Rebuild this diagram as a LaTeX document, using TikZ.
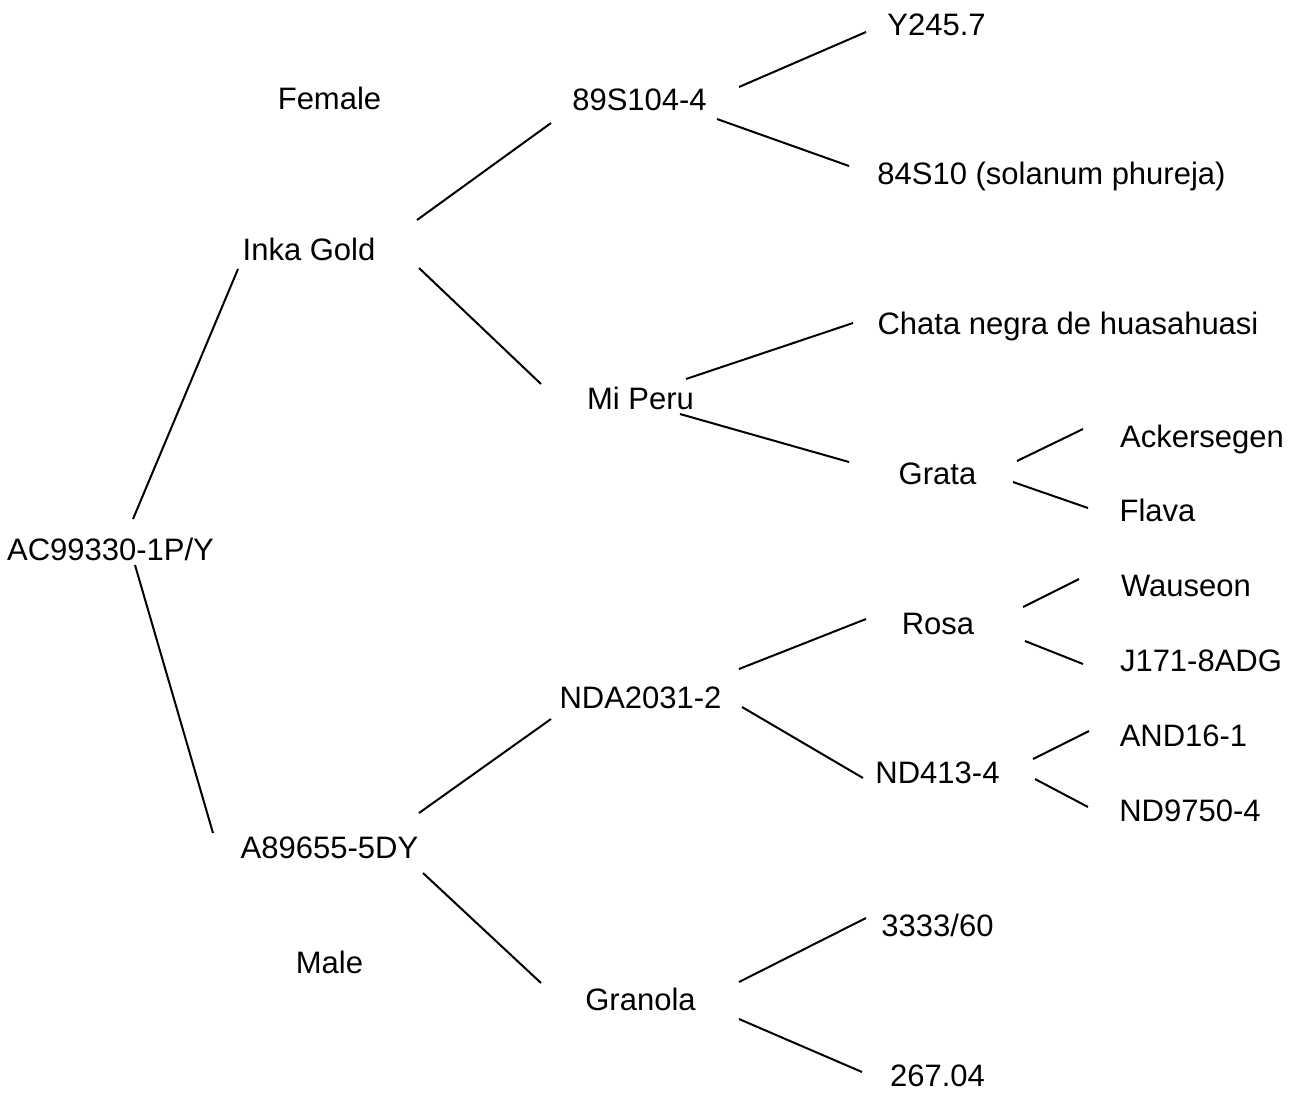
\documentclass[tikz,border=0pt]{standalone}
\usepackage{fontspec}
\setmainfont{Liberation Sans}
\begin{document}
\begin{tikzpicture}[x=0.5pt,y=-0.5pt,
  lbl/.style={anchor=base,inner sep=0pt,font=\fontsize{15.5pt}{18pt}\selectfont},
  link/.style={line width=1pt,black}]
\useasboundingbox (0,0) rectangle (1297,1094);
% labels
\node[lbl] (female) at (329.5,109) {Female};
\node[lbl] (male) at (329.5,973) {Male};
\node[lbl] (ac) at (110.5,560) {AC99330-1P/Y};
\node[lbl] (inka) at (309,260) {Inka Gold};
\node[lbl] (a89) at (329.5,858) {A89655-5DY};
\node[lbl] (s89) at (639.5,110) {89S104-4};
\node[lbl] (miperu) at (640.5,409) {Mi Peru};
\node[lbl] (nda) at (640.5,708) {NDA2031-2};
\node[lbl] (granola) at (640.5,1010) {Granola};
\node[lbl] (y245) at (936.5,35) {Y245.7};
\node[lbl] (s84) at (1051.5,184) {84S10 (solanum phureja)};
\node[lbl] (chata) at (1068,334) {Chata negra de huasahuasi};
\node[lbl] (grata) at (937.5,484) {Grata};
\node[lbl] (acker) at (1202,447) {Ackersegen};
\node[lbl] (flava) at (1157.5,521) {Flava};
\node[lbl] (rosa) at (938,634) {Rosa};
\node[lbl] (wauseon) at (1186,596) {Wauseon};
\node[lbl] (j171) at (1201,671) {J171-8ADG};
\node[lbl] (nd413) at (937.5,783) {ND413-4};
\node[lbl] (and16) at (1183.5,746) {AND16-1};
\node[lbl] (nd9750) at (1190,821) {ND9750-4};
\node[lbl] (s3333) at (937.5,936) {3333/60};
\node[lbl] (s267) at (937.5,1086) {267.04};
% connector end points
\coordinate (ac-a) at (133,519);   \coordinate (inka-a) at (238,269);
\coordinate (ac-b) at (135,565);   \coordinate (a89-a) at (213,833);
\coordinate (inka-b) at (417,220); \coordinate (s89-a) at (551,123);
\coordinate (inka-c) at (419,268); \coordinate (miperu-a) at (541,384);
\coordinate (s89-b) at (739,87);   \coordinate (y245-a) at (866,32);
\coordinate (s89-c) at (717,119);  \coordinate (s84-a) at (849,166);
\coordinate (miperu-b) at (686,379); \coordinate (chata-a) at (853,323);
\coordinate (miperu-c) at (680,414); \coordinate (grata-a) at (849,462);
\coordinate (grata-b) at (1017,461); \coordinate (acker-a) at (1083,429);
\coordinate (grata-c) at (1013,482); \coordinate (flava-a) at (1088,508);
\coordinate (a89-b) at (419,813);  \coordinate (nda-a) at (551,719);
\coordinate (a89-c) at (423,873);  \coordinate (granola-a) at (541,983);
\coordinate (nda-b) at (739,669);  \coordinate (rosa-a) at (866,619);
\coordinate (nda-c) at (742,707);  \coordinate (nd413-a) at (863,778);
\coordinate (rosa-b) at (1023,607); \coordinate (wauseon-a) at (1079,579);
\coordinate (rosa-c) at (1025,641); \coordinate (j171-a) at (1083,664);
\coordinate (nd413-b) at (1033,759); \coordinate (and16-a) at (1089,731);
\coordinate (nd413-c) at (1035,779); \coordinate (nd9750-a) at (1088,807);
\coordinate (granola-b) at (739,982); \coordinate (s3333-a) at (866,918);
\coordinate (granola-c) at (739,1019); \coordinate (s267-a) at (862,1072);
% connectors
\draw[link] (ac-a) -- (inka-a);
\draw[link] (ac-b) -- (a89-a);
\draw[link] (inka-b) -- (s89-a);
\draw[link] (inka-c) -- (miperu-a);
\draw[link] (s89-b) -- (y245-a);
\draw[link] (s89-c) -- (s84-a);
\draw[link] (miperu-b) -- (chata-a);
\draw[link] (miperu-c) -- (grata-a);
\draw[link] (grata-b) -- (acker-a);
\draw[link] (grata-c) -- (flava-a);
\draw[link] (a89-b) -- (nda-a);
\draw[link] (a89-c) -- (granola-a);
\draw[link] (nda-b) -- (rosa-a);
\draw[link] (nda-c) -- (nd413-a);
\draw[link] (rosa-b) -- (wauseon-a);
\draw[link] (rosa-c) -- (j171-a);
\draw[link] (nd413-b) -- (and16-a);
\draw[link] (nd413-c) -- (nd9750-a);
\draw[link] (granola-b) -- (s3333-a);
\draw[link] (granola-c) -- (s267-a);
\end{tikzpicture}
\end{document}
